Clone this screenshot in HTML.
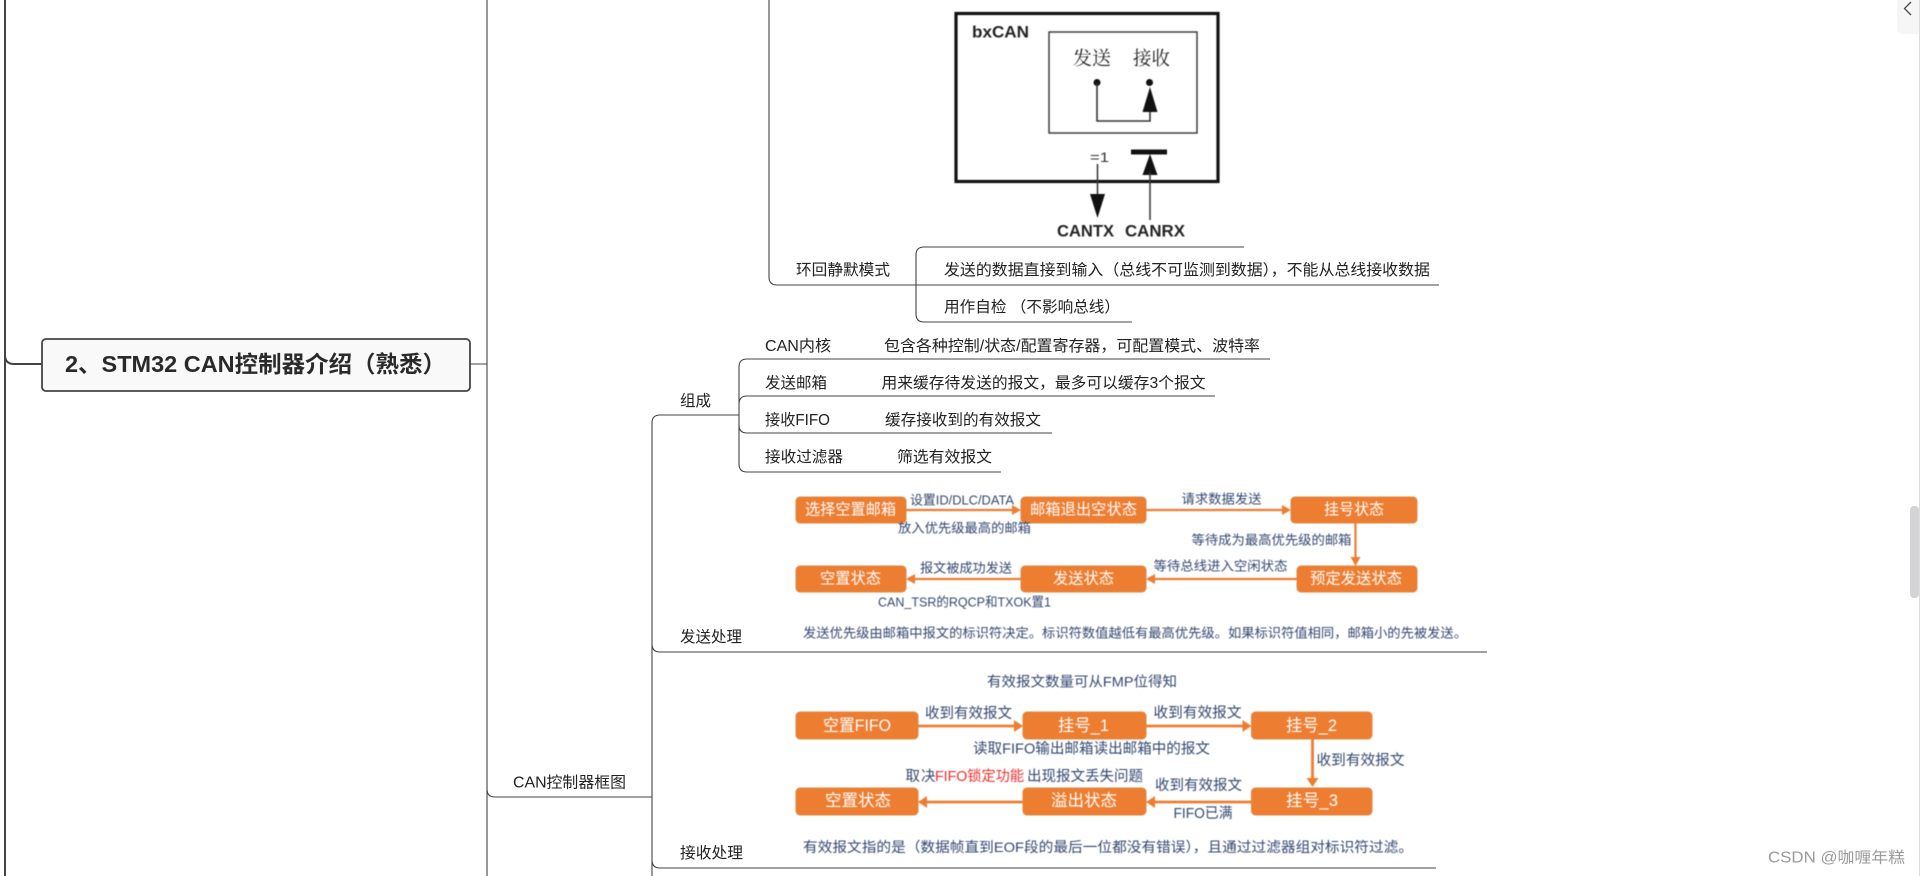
<!DOCTYPE html>
<html lang="zh-CN">
<head>
<meta charset="utf-8">
<title>STM32 CAN控制器介绍</title>
<style>
html,body{margin:0;padding:0;background:#fff;width:1920px;height:876px;overflow:hidden}
svg{display:block;position:absolute;left:0;top:0}
text{font-family:"Liberation Sans","Noto Sans CJK SC",sans-serif;dominant-baseline:central}
.m text{font-size:15.5px;fill:#222}
.n text{font-size:13px;fill:#33476f}
.b text{font-size:15.5px;fill:#fff}
.c{fill:none;stroke:#444;stroke-width:1.1}
.o{fill:#ED7D31;stroke:#E0883F;stroke-width:1}
.a{fill:none;stroke:#ED7D31}
.i{filter:blur(.4px)}
</style>
</head>
<body>
<svg width="1920" height="876" viewBox="0 0 1920 876" xmlns="http://www.w3.org/2000/svg">
<rect width="1920" height="876" fill="#fff"/>

<!-- tree connectors -->
<path d="M5 0V876M5 355Q5 364 14 364H42" fill="none" stroke="#444" stroke-width="2"/>
<path class="c" d="M487 0V876M470 364H487M487 789Q487 797 495 797H652"/>
<path class="c" d="M660 415Q652 415 652 423V876M652 644Q652 652 660 652H1487M652 860Q652 868 660 868H1436"/>
<path class="c" d="M660 415H739M747 359Q739 359 739 367V464Q739 472 747 472H1001M747 396Q739 396 739 404M747 396H1215M739 425Q739 433 747 433H1052M747 359H1270"/>
<path class="c" d="M769 0V277Q769 285 777 285H1439M924 247Q916 247 916 255V314Q916 322 924 322H1132M924 247H1244"/>

<!-- root node -->
<rect x="42" y="339" width="428" height="52" rx="4" fill="#f9f9f9" stroke="#444" stroke-width="1.8"/>
<text x="65" y="364" font-size="23" font-weight="700" fill="#2a2a2a" textLength="381" lengthAdjust="spacingAndGlyphs">2、STM32 CAN控制器介绍（熟悉）</text>

<!-- bxCAN image -->
<g class="i">
<rect x="956" y="13.5" width="262" height="168" fill="#fff" stroke="#111" stroke-width="3.2"/>
<rect x="1049" y="32" width="148" height="101" fill="none" stroke="#333" stroke-width="1.4"/>
<text x="972" y="32" font-size="17" font-weight="700" fill="#222" textLength="57" lengthAdjust="spacingAndGlyphs">bxCAN</text>
<text x="1073" y="57" font-size="19" fill="#222" textLength="38" lengthAdjust="spacingAndGlyphs" style="font-family:'Noto Serif CJK SC',serif">发送</text>
<text x="1133" y="57" font-size="19" fill="#222" textLength="37" lengthAdjust="spacingAndGlyphs" style="font-family:'Noto Serif CJK SC',serif">接收</text>
<circle cx="1097" cy="82.500" r="3.5" fill="#111"/>
<circle cx="1149.5" cy="82.500" r="3.5" fill="#111"/>
<path d="M1097 83V121H1150V108" fill="none" stroke="#333" stroke-width="1.6"/>
<path d="M1150 87L1157.500 112H1142.500Z" fill="#111"/>
<text x="1090" y="157" font-size="14" fill="#333" textLength="19" lengthAdjust="spacingAndGlyphs">=1</text>
<path d="M1097.500 164V196" fill="none" stroke="#333" stroke-width="1.5"/>
<path d="M1097.500 218L1090 194H1105Z" fill="#111"/>
<rect x="1131" y="149.500" width="36" height="5" fill="#111"/>
<path d="M1150 154L1157.500 175H1142.500Z" fill="#111"/>
<path d="M1150 172V220" fill="none" stroke="#333" stroke-width="1.5"/>
<text x="1057" y="231" font-size="17" font-weight="700" fill="#222" textLength="57" lengthAdjust="spacingAndGlyphs">CANTX</text>
<text x="1125" y="231" font-size="17" font-weight="700" fill="#222" textLength="60" lengthAdjust="spacingAndGlyphs">CANRX</text>
</g>

<!-- mind map labels -->
<g class="m" transform="translate(0,1.5)">
<text x="796" y="269" textLength="94" lengthAdjust="spacingAndGlyphs">环回静默模式</text>
<text x="944" y="269" textLength="486" lengthAdjust="spacingAndGlyphs">发送的数据直接到输入（总线不可监测到数据），不能从总线接收数据</text>
<text x="944" y="306" textLength="176" lengthAdjust="spacingAndGlyphs">用作自检 （不影响总线）</text>
<text x="765" y="345" textLength="66" lengthAdjust="spacingAndGlyphs">CAN内核</text>
<text x="884" y="345" textLength="376" lengthAdjust="spacingAndGlyphs">包含各种控制/状态/配置寄存器，可配置模式、波特率</text>
<text x="765" y="382" textLength="62" lengthAdjust="spacingAndGlyphs">发送邮箱</text>
<text x="881.500" y="382" textLength="324" lengthAdjust="spacingAndGlyphs">用来缓存待发送的报文，最多可以缓存3个报文</text>
<text x="765" y="419" textLength="65" lengthAdjust="spacingAndGlyphs">接收FIFO</text>
<text x="885" y="419" textLength="156" lengthAdjust="spacingAndGlyphs">缓存接收到的有效报文</text>
<text x="765" y="456" textLength="78" lengthAdjust="spacingAndGlyphs">接收过滤器</text>
<text x="897" y="456" textLength="95" lengthAdjust="spacingAndGlyphs">筛选有效报文</text>
<text x="680" y="400" textLength="31" lengthAdjust="spacingAndGlyphs">组成</text>
<text x="680" y="636" textLength="62" lengthAdjust="spacingAndGlyphs">发送处理</text>
<text x="680" y="852" textLength="63" lengthAdjust="spacingAndGlyphs">接收处理</text>
<text x="513" y="781.500" textLength="113" lengthAdjust="spacingAndGlyphs">CAN控制器框图</text>
</g>

<!-- send flow -->
<g class="i">
<path class="a" stroke-width="2.2" d="M906 510H1014M1146 510H1284M1355.500 523V559M1297 579H1153M1021 579H912"/>
<path fill="#ED7D31" d="M1021 510L1012 505V515ZM1291 510L1282 505V515ZM1355.500 566L1350.500 557H1360.500ZM1146 579L1155 574V584ZM906 579L915 574V584Z"/>
<rect class="o" x="796" y="497" width="110" height="26" rx="4"/>
<rect class="o" x="1021" y="497" width="125" height="26" rx="4"/>
<rect class="o" x="1291" y="497" width="126" height="26" rx="4"/>
<rect class="o" x="796" y="566" width="110" height="26" rx="4"/>
<rect class="o" x="1021" y="566" width="125" height="26" rx="4"/>
<rect class="o" x="1297" y="566" width="120" height="26" rx="4"/>
<g class="b">
<text x="805" y="510" textLength="91" lengthAdjust="spacingAndGlyphs">选择空置邮箱</text>
<text x="1030" y="510" textLength="107" lengthAdjust="spacingAndGlyphs">邮箱退出空状态</text>
<text x="1324" y="510" textLength="60" lengthAdjust="spacingAndGlyphs">挂号状态</text>
<text x="820" y="579" textLength="61" lengthAdjust="spacingAndGlyphs">空置状态</text>
<text x="1053" y="579" textLength="61" lengthAdjust="spacingAndGlyphs">发送状态</text>
<text x="1310" y="579" textLength="92" lengthAdjust="spacingAndGlyphs">预定发送状态</text>
</g>
<g class="n">
<text x="910" y="500" textLength="104" lengthAdjust="spacingAndGlyphs">设置ID/DLC/DATA</text>
<text x="898" y="528" textLength="133" lengthAdjust="spacingAndGlyphs">放入优先级最高的邮箱</text>
<text x="1181.500" y="499" textLength="80" lengthAdjust="spacingAndGlyphs">请求数据发送</text>
<text x="1191.500" y="540" textLength="160" lengthAdjust="spacingAndGlyphs">等待成为最高优先级的邮箱</text>
<text x="1153.500" y="566" textLength="134" lengthAdjust="spacingAndGlyphs">等待总线进入空闲状态</text>
<text x="920" y="568" textLength="92" lengthAdjust="spacingAndGlyphs">报文被成功发送</text>
<text x="878" y="602" textLength="173" lengthAdjust="spacingAndGlyphs">CAN_TSR的RQCP和TXOK置1</text>
<text x="803" y="633" textLength="664" lengthAdjust="spacingAndGlyphs">发送优先级由邮箱中报文的标识符决定。标识符数值越低有最高优先级。如果标识符值相同，邮箱小的先被发送。</text>
</g>
</g>

<!-- receive flow -->
<g class="i">
<path class="a" stroke-width="2.8" d="M918 726H1014M1146 726H1243M1312.500 739V780M1251.500 802H1154M1023 802H926"/>
<path fill="#ED7D31" d="M1023 726L1014 720V732ZM1251.500 726L1242.500 720V732ZM1312.500 787L1306.500 778H1318.500ZM1146 802L1155 796V808ZM918 802L927 796V808Z"/>
<rect class="o" x="796" y="712" width="122" height="27" rx="4"/>
<rect class="o" x="1023" y="712" width="123" height="27" rx="4"/>
<rect class="o" x="1251.500" y="712" width="120.500" height="27" rx="4"/>
<rect class="o" x="796" y="788" width="122" height="27" rx="4"/>
<rect class="o" x="1023" y="788" width="123" height="27" rx="4"/>
<rect class="o" x="1251.500" y="788" width="120.500" height="27" rx="4"/>
<g class="b">
<text x="823" y="726" style="font-size:16.500px" textLength="68" lengthAdjust="spacingAndGlyphs">空置FIFO</text>
<text x="1058" y="726" style="font-size:16.500px" textLength="51" lengthAdjust="spacingAndGlyphs">挂号_1</text>
<text x="1286" y="726" style="font-size:16.500px" textLength="51" lengthAdjust="spacingAndGlyphs">挂号_2</text>
<text x="825" y="801" style="font-size:16.500px" textLength="66" lengthAdjust="spacingAndGlyphs">空置状态</text>
<text x="1051" y="801" style="font-size:16.500px" textLength="66" lengthAdjust="spacingAndGlyphs">溢出状态</text>
<text x="1286" y="801" style="font-size:16.500px" textLength="52" lengthAdjust="spacingAndGlyphs">挂号_3</text>
</g>
<g class="n">
<text x="987" y="681.500" style="font-size:14px" textLength="190" lengthAdjust="spacingAndGlyphs">有效报文数量可从FMP位得知</text>
<text x="925" y="714" style="font-size:14.500px" textLength="87" lengthAdjust="spacingAndGlyphs">收到有效报文</text>
<text x="1153.500" y="713.500" style="font-size:14.500px" textLength="88" lengthAdjust="spacingAndGlyphs">收到有效报文</text>
<text x="973" y="749.500" style="font-size:14.500px" textLength="237" lengthAdjust="spacingAndGlyphs">读取FIFO输出邮箱读出邮箱中的报文</text>
<text x="1316.500" y="761" style="font-size:14.500px" textLength="88" lengthAdjust="spacingAndGlyphs">收到有效报文</text>
<text x="905.500" y="777" style="font-size:14.500px" textLength="30">取决</text>
<text x="935" y="777" style="font-size:14.500px;fill:#EE2B2B" textLength="89" lengthAdjust="spacingAndGlyphs">FIFO锁定功能</text>
<text x="1027" y="777" style="font-size:14.500px" textLength="116" lengthAdjust="spacingAndGlyphs">出现报文丢失问题</text>
<text x="1155" y="786" style="font-size:14.500px" textLength="87" lengthAdjust="spacingAndGlyphs">收到有效报文</text>
<text x="1173.500" y="814" style="font-size:14.500px" textLength="59" lengthAdjust="spacingAndGlyphs">FIFO已满</text>
<text x="803" y="847" style="font-size:14px" textLength="610" lengthAdjust="spacingAndGlyphs">有效报文指的是（数据帧直到EOF段的最后一位都没有错误），且通过过滤器组对标识符过滤。</text>
</g>
</g>

<!-- page chrome -->
<path d="M1897 0H1919V34H1903Q1897 34 1897 28Z" fill="#f6f6f6"/>
<path d="M1911 2L1904.500 8.500L1911 15" fill="none" stroke="#444" stroke-width="1.300"/>
<rect x="1919" y="0" width="1" height="876" fill="#dcdcdc"/>
<rect x="1910" y="506" width="9" height="92" rx="4" fill="#d4d4d6"/>
<text x="1768" y="858" font-size="15.500" fill="#9a9a9a" textLength="137" lengthAdjust="spacingAndGlyphs">CSDN @咖喱年糕</text>
</svg>
</body>
</html>
